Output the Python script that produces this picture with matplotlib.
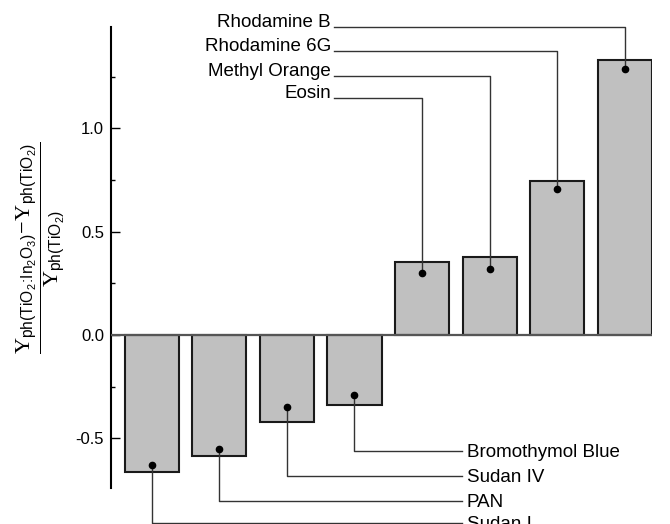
import numpy as np
import matplotlib.pyplot as plt

plt.rcParams['font.family'] = ['Liberation Sans', 'DejaVu Sans']
plt.rcParams['mathtext.fontset'] = 'custom'
plt.rcParams['mathtext.rm'] = 'Liberation Serif'
plt.rcParams['mathtext.sf'] = 'Liberation Sans'

# relative change of the photocatalytic yield, one bar per dye
dyes = ['Sudan I', 'PAN', 'Sudan IV', 'Bromothymol Blue',
        'Eosin', 'Methyl Orange', 'Rhodamine 6G', 'Rhodamine B']
rel_change = [-0.665, -0.585, -0.42, -0.338, 0.353, 0.377, 0.747, 1.328]
dot_y = [-0.628, -0.551, -0.348, -0.29, 0.30, 0.32, 0.705, 1.285]

# height of the leader line that goes to each dye name
leader_y = [-0.908, -0.802, -0.68, -0.559, 1.145, 1.251, 1.372, 1.488]

x = np.arange(1, len(dyes) + 1)

fig = plt.figure(figsize=(6.7, 5.24), dpi=100)
ax = fig.add_axes([111/670, 36/524, 541/670, 461/524])

ax.bar(x, rel_change, width=0.8, color='#c0c0c0', edgecolor='#1a1a1a',
       linewidth=1.5, zorder=2)
ax.axhline(0, color='#555555', linewidth=1.6, zorder=3)
ax.plot(x, dot_y, 'o', color='black', markersize=4.5, zorder=5, clip_on=False)

lc = '#333333'
for xi, yd, yl, name in zip(x, dot_y, leader_y, dyes):
    if yl > 0:
        ax.plot([xi, xi, 3.70], [yd, yl, yl], color=lc, lw=1.0, zorder=4,
                clip_on=False)
        ax.text(3.65, yl + 0.002, name, ha='right', va='baseline',
                fontsize=13.5, clip_on=False)
    else:
        ax.plot([xi, xi, 5.59], [yd, yl, yl], color=lc, lw=1.0, zorder=4,
                clip_on=False)
        ax.text(5.66, yl, name, ha='left', va='center_baseline',
                fontsize=13.5, clip_on=False)

ax.set_xlim(0.4, 8.4)
ax.set_ylim(-0.74, 1.49)
ax.set_yticks([-0.5, 0.0, 0.5, 1.0])
ax.set_yticks(np.arange(-0.5, 1.5, 0.25), minor=True)
ax.set_yticklabels(['-0.5', '0.0', '0.5', '1.0'])
ax.tick_params(axis='y', which='major', direction='in', length=6.5,
               width=1.0, labelsize=12, pad=5)
ax.tick_params(axis='y', which='minor', direction='in', length=3, width=1.0)
ax.set_xticks([])
for s in ['top', 'right', 'bottom']:
    ax.spines[s].set_visible(False)
ax.spines['left'].set_linewidth(1.5)

ylab = (r'$\dfrac{\Upsilon_{\mathsf{ph(TiO_2\!:\!In_2O_3)}}\!-\!\Upsilon_{\mathsf{ph(TiO_2)}}}'
        r'{\Upsilon_{\mathsf{ph(TiO_2)}}}$')
fig.text(41/670, 1 - 248/524, ylab, rotation=90, ha='center', va='center',
         fontsize=16)

fig.savefig('out.png', dpi=100)
